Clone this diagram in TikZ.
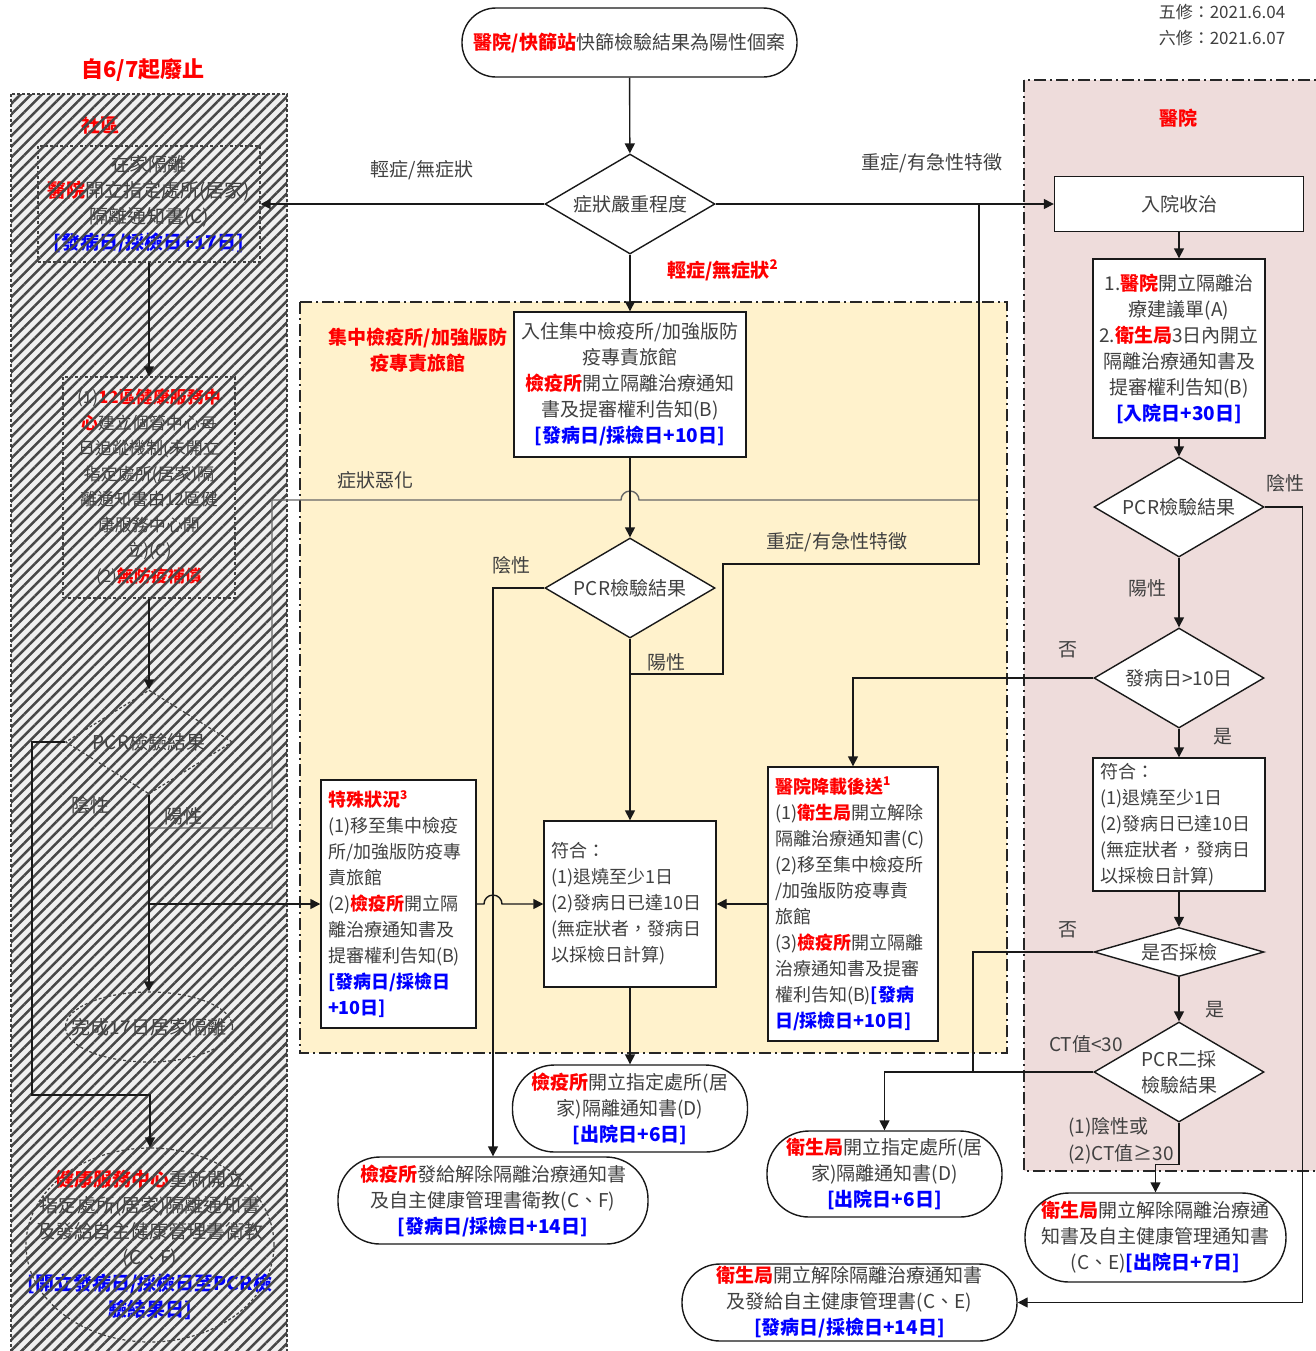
\documentclass[tikz,border=0pt]{standalone}
\usepackage{fontspec}
\setmainfont{Noto Sans CJK TC}
\usetikzlibrary{shapes.geometric,arrows.meta,patterns.meta}
\definecolor{quarantine}{HTML}{FFF2CC}
\definecolor{hospital}{HTML}{EEDCDB}
\definecolor{ink}{HTML}{404040}
\definecolor{orgred}{HTML}{FF0000}
\definecolor{dueblue}{HTML}{0000FF}

\begin{document}
\begin{tikzpicture}[x=0.5pt,y=-0.5pt,>={Triangle[length=5pt,width=5pt]},
   every node/.style={font=\fontsize{9.5}{13}\selectfont,text=ink},
   line/.style={line width=0.7pt,draw=black!90},
   box/.style={draw=black!90,line width=0.7pt,fill=white,rectangle,inner sep=0pt,align=center},
   lbox/.style={box,align=left,inner xsep=3.5pt,font=\fontsize{9}{13}\selectfont},
   pill/.style={box,rounded corners=#1},
   pill/.default=21pt,
   dia/.style={draw=black!90,line width=0.7pt,fill=white,diamond,inner sep=0pt,aspect=1.7,
      align=center,minimum width=85pt,minimum height=50pt},
   ghost/.style={draw=black!75,line width=0.6pt,dash pattern=on 1.5pt off 1pt},
   zone/.style={line width=0.7pt,draw=black!85,dash pattern=on 6pt off 2pt on 1pt off 2pt},
   tag/.style={inner sep=1pt},
   worse/.style={line width=0.7pt,draw=black!60},
]
   \newcommand\Org[1]{\textcolor{orgred}{\bfseries #1}}
   \newcommand\Due[1]{\textcolor{dueblue}{\bfseries #1}}
% Page frame
   \useasboundingbox (0,0) rectangle (1316,1351);
% Zones (drawn first, below everything)
   \fill [black!6] (11,94) rectangle (287,1360);
   \draw [zone,fill=quarantine] (300,302) rectangle (1007,1053);
   \draw [zone,fill=hospital] (1024,80) rectangle (1330,1171);
% Headings
   \node [font=\fontsize{11}{13}\selectfont\bfseries,text=orgred] (repeal) at (143,70) {自6/7起廢止};
   \node [font=\fontsize{8.5}{13}\selectfont,align=left] (rev) at (1222,25) {五修：2021.6.04\\六修：2021.6.07};
   \node [font=\fontsize{9.5}{13}\selectfont\bfseries,text=orgred] (community) at (100,125) {社區};
   \node [font=\fontsize{9.5}{13}\selectfont\bfseries,text=orgred] (hosptitle) at (1178,118) {醫院};
   \node [font=\fontsize{9.5}{13}\selectfont\bfseries,text=orgred,align=center] (quartitle) at (418,350)
        {集中檢疫所/加強版防\\疫專責旅館};
% Start and triage
   \node [pill=17pt,minimum width=167.5pt,minimum height=34.5pt] (start) at (629.5,42.5)
        {\Org{醫院/快篩站}快篩檢驗結果為陽性個案};
   \node [dia] (sev) at (630,204) {症狀嚴重程度};
% Community column (repealed)
   \node [ghost,rectangle,minimum width=111pt,minimum height=58pt,align=center] (home) at (149,204)
        {在家隔離\\\Org{醫院}開立指定處所(居家)\\隔離通知書(C)\\\Due{[發病日/採檢日+17日]}};
   \node [ghost,rectangle,minimum width=86pt,minimum height=110.5pt,align=center,
        font=\fontsize{8.5}{12.75}\selectfont] (cmgr) at (149,487.5)
        {(1)\Org{12區健康服務中}\\\Org{心}建立個管中心每\\日追蹤機制(未開立\\指定處所(居家)隔\\離通知書由12區健\\康服務中心開\\立)(C)\\(2)\Org{無防疫補償}};
   \node [ghost,diamond,aspect=1.6,inner sep=0pt,minimum width=83.5pt,minimum height=52pt] (lpcr) at (149,742)
        {PCR檢驗結果};
   \node [ghost,ellipse,minimum width=83.5pt,minimum height=35pt] (done) at (149,1027) {};
   \node (donetext) at (done) {完成17日居家隔離};
   \node [ghost,ellipse,minimum width=124pt,minimum height=97pt] (bigc) at (150,1245) {};
   \node [align=center] (bigctext) at (bigc)
        {\Org{健康服務中心}重新開立\\指定處所(居家)隔離通知書\\及發給自主健康管理書衛教\\(C、F)\\\Due{[開立發病日/採檢日至PCR檢}\\\Due{驗結果日]}};
   \node [tag] (lneg) at (90,805) {陰性};
   \node [tag] (lpos) at (183,816) {陽性};
% Hatching over the repealed column
   \fill [pattern={Lines[angle=45,distance=3.8pt,line width=1.25pt]},pattern color=black!72]
        (11,94) rectangle (287,1360);
   \draw [ghost] (11,94) rectangle (287,1360);
% Quarantine hotel zone
   \node [box,minimum width=116pt,minimum height=72.5pt] (hotel) at (630,384.5)
        {入住集中檢疫所/加強版防\\疫專責旅館\\\Org{檢疫所}開立隔離治療通知\\書及提審權利告知(B)\\\Due{[發病日/採檢日+10日]}};
   \node [dia] (mpcr) at (630,588) {PCR檢驗結果};
   \node [lbox,text width=79pt,minimum height=83pt] (mfit) at (630,904)
        {符合：\\(1)退燒至少1日\\(2)發病日已達10日\\(無症狀者，發病日\\以採檢日計算)};
   \node [lbox,text width=70.5pt,minimum height=124pt] (spec) at (398.5,904)
        {\Org{特殊狀況\textsuperscript{3}}\\(1)移至集中檢疫\\所/加強版防疫專\\責旅館\\(2)\Org{檢疫所}開立隔\\離治療通知書及\\提審權利告知(B)\\\Due{[發病日/採檢日}\\\Due{+10日]}};
   \node [lbox,text width=78pt,minimum height=137pt] (lower) at (853,904)
        {\Org{醫院降載後送\textsuperscript{1}}\\(1)\Org{衛生局}開立解除\\隔離治療通知書(C)\\(2)移至集中檢疫所\\/加強版防疫專責\\旅館\\(3)\Org{檢疫所}開立隔離\\治療通知書及提審\\權利告知(B)\Due{[發病}\\\Due{日/採檢日+10日]}};
% Exits
   \node [pill,minimum width=117.5pt,minimum height=43.5pt] (hotelD) at (630,1108.5)
        {\Org{檢疫所}開立指定處所(居\\家)隔離通知書(D)\\\Due{[出院日+6日]}};
   \node [pill,minimum width=155pt,minimum height=43.5pt] (relF) at (493,1200.5)
        {\Org{檢疫所}發給解除隔離治療通知書\\及自主健康管理書衛教(C、F)\\\Due{[發病日/採檢日+14日]}};
   \node [pill,minimum width=117.5pt,minimum height=43pt] (dohD) at (884.5,1174)
        {\Org{衛生局}開立指定處所(居\\家)隔離通知書(D)\\\Due{[出院日+6日]}};
   \node [pill=22pt,minimum width=130.5pt,minimum height=44.5pt] (relE7) at (1155.5,1237.5)
        {\Org{衛生局}開立解除隔離治療通\\知書及自主健康管理通知書\\(C、E)\Due{[出院日+7日]}};
   \node [pill=19pt,minimum width=167.5pt,minimum height=38.5pt] (relE14) at (849.5,1302.5)
        {\Org{衛生局}開立解除隔離治療通知書\\及發給自主健康管理書(C、E)\\\Due{[發病日/採檢日+14日]}};
% Hospital zone
   \node [box,minimum width=124.5pt,minimum height=27.5pt] (admit) at (1179,204) {入院收治};
   \node [box,minimum width=86pt,minimum height=89.5pt] (order) at (1179,348.5)
        {1.\Org{醫院}開立隔離治\\療建議單(A)\\2.\Org{衛生局}3日內開立\\隔離治療通知書及\\提審權利告知(B)\\\Due{[入院日+30日]}};
   \node [dia] (rpcr) at (1179,507) {PCR檢驗結果};
   \node [dia] (onset) at (1179,678) {發病日>10日};
   \node [lbox,text width=79pt,minimum height=66.5pt] (rfit) at (1179,824.5)
        {符合：\\(1)退燒至少1日\\(2)發病日已達10日\\(無症狀者，發病日\\以採檢日計算)};
   \node [dia,aspect=3.5,minimum height=24.5pt] (sampled) at (1179,952) {是否採檢};
   \node [dia] (pcr2) at (1179,1072) {PCR二採\\檢驗結果};
% Branch labels
   \node [tag] (mildL) at (422,170) {輕症/無症狀};
   \node [tag] (severeL) at (932,163) {重症/有急性特徵};
   \node [tag,anchor=west] (mildD) at (665,270) {\Org{輕症/無症狀\textsuperscript{2}}};
   \node [tag] (worseL) at (375,480) {症狀惡化};
   \node [tag] (mneg) at (511,565) {陰性};
   \node [tag] (mpos) at (666,662) {陽性};
   \node [tag] (msev) at (837,542) {重症/有急性特徵};
   \node [tag] (rneg) at (1285,483) {陰性};
   \node [tag] (rpos) at (1147,588) {陽性};
   \node [tag] (rno) at (1068,650) {否};
   \node [tag] (ryes) at (1223,737) {是};
   \node [tag] (sno) at (1068,930) {否};
   \node [tag] (syes) at (1215,1010) {是};
   \node [tag] (ctlow) at (1086,1044) {CT值<30};
   \node [tag,align=left,font=\fontsize{9.5}{13.5}\selectfont] (cthigh) at (1121,1141) {(1)陰性或\\(2)CT值≥30};
% Bends and crossings
   \coordinate (sevjoin) at (979,204);
   \coordinate (posfork) at (630,674);
   \coordinate (sevbend) at (723,564);
   \coordinate (cross)   at (630,500);
   \coordinate (wknee)   at (272,828);
   \coordinate (lloop)   at (32,1095);
   \coordinate (nojoin)  at (973,1072);
   \coordinate (negdrop) at (relF.north |- spec.east);
% Connectors: triage
   \draw [->,line] (start) -- (sev);
   \draw [->,line] (sev.west) -- (home.east);
   \draw [->,line] (sev.east) -- (admit.west);
   \draw [->,line] (sev.south) -- (hotel.north);
% Connectors: community
   \draw [->,line] (home.south) -- (cmgr.north);
   \draw [->,line] (cmgr.south) -- (lpcr.north);
   \draw [->,line] (lpcr.south) -- (done.north);
   \draw [->,line] (lpcr.west) -| (lloop) -| (bigc.north);
   \draw [->,line] (lpcr.south |- spec.west) -- (spec.west);
   \draw [worse] (lpcr.south |- wknee) -- (wknee) -- (wknee |- cross)
        -- ([xshift=-4.5pt]cross) arc (180:0:4.5pt) -- (sevjoin |- cross);
% Connectors: quarantine hotel
   \draw [->,line] (hotel.south) -- (mpcr.north);
   \draw [->,line] (mpcr.west) -| (relF.north);
   \draw [->,line] (mpcr.south) -- (mfit.north);
   \draw [line] (posfork) -| (sevbend) -| (sevjoin);
   \draw [->,line] (spec.east) -- ([xshift=-4.5pt]negdrop) arc (180:0:4.5pt) -- (mfit.west);
   \draw [->,line] (lower.west) -- (mfit.east);
   \draw [->,line] (mfit.south) -- (hotelD.north);
% Connectors: hospital
   \draw [->,line] (admit.south) -- (order.north);
   \draw [->,line] (order.south) -- (rpcr.north);
   \draw [->,line] (rpcr.east) -- ++(38,0) |- (relE14.east);
   \draw [->,line] (rpcr.south) -- (onset.north);
   \draw [->,line] (onset.west) -| (lower.north);
   \draw [->,line] (onset.south) -- (rfit.north);
   \draw [->,line] (rfit.south) -- (sampled.north);
   \draw [->,line] (sampled.south) -- (pcr2.north);
   \draw [line] (sampled.west) -| (nojoin);
   \draw [->,line] (pcr2.west) -| (dohD.north);
   \draw [->,line] (pcr2.south) -- ++(0,42) -| (relE7.north);
\end{tikzpicture}
\end{document}
